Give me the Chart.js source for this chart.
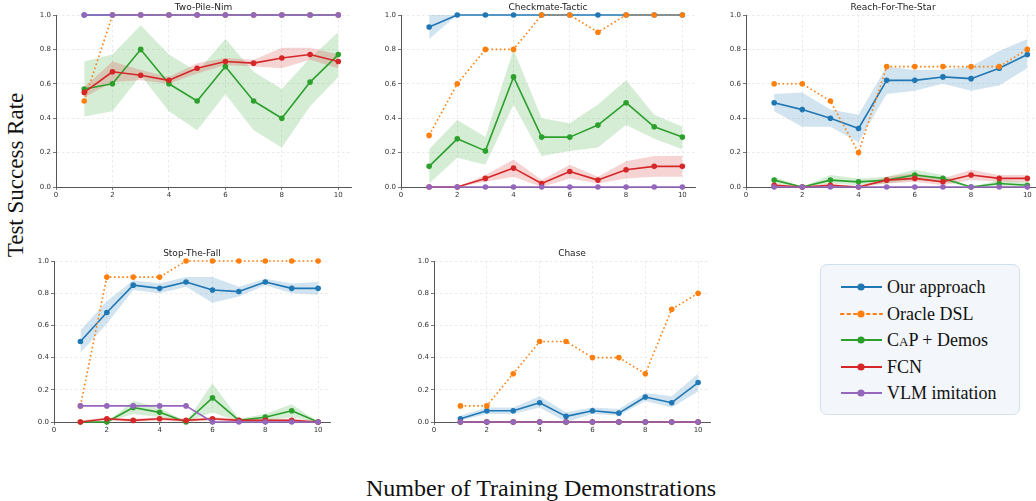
<!DOCTYPE html>
<html><head><meta charset="utf-8">
<script src="https://cdn.jsdelivr.net/npm/chart.js@4.4.0/dist/chart.umd.min.js"></script>
<style>
html,body{margin:0;padding:0;}
body{width:1036px;height:501px;overflow:hidden;background:#fff;position:relative;}
canvas.sub{position:absolute;}
#ylabel{position:absolute;left:16px;top:175px;transform:translate(-50%,-50%) rotate(-90deg);font-family:"Liberation Serif","DejaVu Serif",serif;font-size:23px;color:#111;white-space:nowrap;}
#xlabel{position:absolute;left:541px;top:488px;transform:translate(-50%,-50%);font-family:"Liberation Serif","DejaVu Serif",serif;font-size:24px;color:#111;white-space:nowrap;}
#legend{position:absolute;left:820px;top:264px;width:200px;height:151px;background:#f3f6fa;border:1px solid #d3dfea;border-radius:7px;box-sizing:border-box;}
.row{position:absolute;left:0;height:24px;width:200px;}
.row svg{position:absolute;left:19px;top:2px;}
.row span{position:absolute;left:66px;top:0;line-height:24px;font-family:"Liberation Serif","DejaVu Serif",serif;font-size:18px;color:#111;white-space:nowrap;}
</style></head><body>
<div id="ylabel">Test Success Rate</div>
<div id="xlabel">Number of Training Demonstrations</div>
<div id="legend"></div>
<script>
// ---------- data ----------
const xs = [1, 2, 3, 4, 5, 6, 7, 8, 9, 10];
const xTicks = [0, 2, 4, 6, 8, 10];
const yTicks = [0, 0.2, 0.4, 0.6, 0.8, 1.0];
const seriesNames = ["Our approach", "Oracle DSL", "CAP + Demos", "FCN", "VLM imitation"];
const seriesColors = ["#1f77b4", "#ff7f0e", "#2ca02c", "#d62728", "#9467bd"];
const taskTitles = ["Two-Pile-Nim", "Checkmate-Tactic", "Reach-For-The-Star", "Stop-The-Fall", "Chase"];

// Two-Pile-Nim
const nimOurs   = [1, 1, 1, 1, 1, 1, 1, 1, 1, 1];
const nimOracle = [0.5, 1, 1, 1, 1, 1, 1, 1, 1, 1];
const nimCap    = [0.57, 0.60, 0.80, 0.60, 0.50, 0.70, 0.50, 0.40, 0.61, 0.77];
const nimCapLo  = [0.41, 0.44, 0.65, 0.44, 0.33, 0.54, 0.33, 0.23, 0.47, 0.64];
const nimCapHi  = [0.73, 0.77, 0.94, 0.77, 0.67, 0.86, 0.67, 0.57, 0.75, 0.90];
const nimFcn    = [0.55, 0.67, 0.65, 0.62, 0.69, 0.73, 0.72, 0.75, 0.77, 0.73];
const nimFcnLo  = [0.52, 0.61, 0.62, 0.60, 0.66, 0.71, 0.70, 0.69, 0.74, 0.69];
const nimFcnHi  = [0.58, 0.73, 0.68, 0.64, 0.72, 0.75, 0.74, 0.81, 0.81, 0.77];
const nimVlm    = [1, 1, 1, 1, 1, 1, 1, 1, 1, 1];

// Checkmate-Tactic
const cmOurs    = [0.93, 1, 1, 1, 1, 1, 1, 1, 1, 1];
const cmOursLo  = [0.86, 1, 1, 1, 1, 1, 1, 1, 1, 1];
const cmOursHi  = [1, 1, 1, 1, 1, 1, 1, 1, 1, 1];
const cmOracle  = [0.3, 0.6, 0.8, 0.8, 1, 1, 0.9, 1, 1, 1];
const cmCap     = [0.12, 0.28, 0.21, 0.64, 0.29, 0.29, 0.36, 0.49, 0.35, 0.29];
const cmCapLo   = [0.02, 0.17, 0.13, 0.48, 0.18, 0.21, 0.23, 0.36, 0.28, 0.22];
const cmCapHi   = [0.22, 0.39, 0.29, 0.80, 0.40, 0.37, 0.48, 0.62, 0.42, 0.35];
const cmFcn     = [0, 0, 0.05, 0.11, 0.02, 0.09, 0.04, 0.10, 0.12, 0.12];
const cmFcnLo   = [0, 0, 0.03, 0.06, 0.00, 0.05, 0.02, 0.05, 0.06, 0.06];
const cmFcnHi   = [0, 0, 0.07, 0.16, 0.04, 0.13, 0.06, 0.15, 0.18, 0.18];
const cmVlm     = [0, 0, 0, 0, 0, 0, 0, 0, 0, 0];

// Reach-For-The-Star
const rsOurs    = [0.49, 0.45, 0.40, 0.34, 0.62, 0.62, 0.64, 0.63, 0.69, 0.77];
const rsOursLo  = [0.44, 0.35, 0.35, 0.26, 0.54, 0.56, 0.60, 0.56, 0.59, 0.69];
const rsOursHi  = [0.54, 0.55, 0.45, 0.42, 0.70, 0.68, 0.68, 0.70, 0.79, 0.86];
const rsOracle  = [0.6, 0.6, 0.5, 0.2, 0.7, 0.7, 0.7, 0.7, 0.7, 0.8];
const rsCap     = [0.04, 0, 0.04, 0.03, 0.04, 0.07, 0.05, 0, 0.02, 0.01];
const rsCapLo   = [0.02, 0, 0.02, 0.01, 0.02, 0.04, 0.03, 0, 0, 0];
const rsCapHi   = [0.06, 0, 0.07, 0.05, 0.06, 0.10, 0.07, 0, 0.04, 0.03];
const rsFcn     = [0.01, 0, 0.01, 0, 0.04, 0.05, 0.03, 0.07, 0.05, 0.05];
const rsFcnLo   = [0, 0, 0, 0, 0.02, 0.03, 0.01, 0.04, 0.03, 0.03];
const rsFcnHi   = [0.02, 0, 0.02, 0, 0.06, 0.08, 0.05, 0.10, 0.07, 0.07];
const rsVlm     = [0, 0, 0, 0, 0, 0, 0, 0, 0, 0];

// Stop-The-Fall
const sfOurs    = [0.50, 0.68, 0.85, 0.83, 0.87, 0.82, 0.81, 0.87, 0.83, 0.83];
const sfOursLo  = [0.43, 0.61, 0.82, 0.80, 0.84, 0.74, 0.78, 0.85, 0.80, 0.79];
const sfOursHi  = [0.57, 0.75, 0.88, 0.86, 0.90, 0.90, 0.84, 0.89, 0.86, 0.87];
const sfOracle  = [0.1, 0.9, 0.9, 0.9, 1, 1, 1, 1, 1, 1];
const sfCap     = [0, 0, 0.09, 0.06, 0, 0.15, 0.01, 0.03, 0.07, 0];
const sfCapLo   = [0, 0, 0.05, 0.03, 0, 0.06, 0, 0.01, 0.03, 0];
const sfCapHi   = [0, 0, 0.13, 0.09, 0, 0.24, 0.02, 0.05, 0.11, 0];
const sfFcn     = [0, 0.02, 0.01, 0.02, 0.01, 0.02, 0.01, 0.01, 0.01, 0];
const sfFcnLo   = [0, 0.01, 0, 0.01, 0, 0.01, 0, 0, 0, 0];
const sfFcnHi   = [0.01, 0.03, 0.02, 0.03, 0.02, 0.03, 0.02, 0.02, 0.02, 0.01];
const sfVlm     = [0.1, 0.1, 0.1, 0.1, 0.1, 0, 0, 0, 0, 0];

// Chase
const chOurs    = [0.02, 0.07, 0.07, 0.12, 0.035, 0.07, 0.055, 0.155, 0.12, 0.245];
const chOursLo  = [0.01, 0.05, 0.05, 0.09, 0.00, 0.05, 0.04, 0.13, 0.09, 0.19];
const chOursHi  = [0.04, 0.09, 0.09, 0.16, 0.06, 0.09, 0.08, 0.18, 0.16, 0.30];
const chOracle  = [0.1, 0.1, 0.3, 0.5, 0.5, 0.4, 0.4, 0.3, 0.7, 0.8];
const chCap     = [0, 0, 0, 0, 0, 0, 0, 0, 0, 0];
const chFcn     = [0, 0, 0, 0, 0, 0, 0, 0, 0, 0];
const chVlm     = [0, 0, 0, 0, 0, 0, 0, 0, 0, 0];

// ---------- helpers ----------
const alpha = (hex, a) => {
  const n = parseInt(hex.slice(1), 16);
  return `rgba(${(n >> 16) & 255},${(n >> 8) & 255},${n & 255},${a})`;
};
const pts = arr => xs.map((x, i) => ({x: x, y: arr[i]}));

function lineDS(arr, si) {
  const c = seriesColors[si];
  return {
    label: seriesNames[si], data: pts(arr), borderColor: c, backgroundColor: c,
    borderWidth: 1.6, borderDash: si === 1 ? [1.6, 2.6] : [],
    pointRadius: 2.8, pointBorderWidth: 0, pointBackgroundColor: c,
    borderJoinStyle: 'round', tension: 0, fill: false, clip: false, order: 5 - si
  };
}
function bandDS(lo, hi, si) {
  const c = alpha(seriesColors[si], 0.2);
  return [
    {label: '_lo', data: pts(lo), borderWidth: 0, pointRadius: 0, fill: false, order: 20 - si, borderColor: 'rgba(0,0,0,0)'},
    {label: '_hi', data: pts(hi), borderWidth: 0, pointRadius: 0, fill: '-1', backgroundColor: c, order: 20 - si, borderColor: 'rgba(0,0,0,0)'}
  ];
}

const YW = 30, XH = 16, TH = 15;
const tickFont = {family: 'DejaVu Sans', size: 7};

function makeChart(title, geom, datasets) {
  const [L, R, T, B] = geom;
  const left = L - YW, top = T - TH;
  const w = R - left, h = B + XH - top;
  const cv = document.createElement('canvas');
  cv.className = 'sub';
  cv.width = w; cv.height = h;
  cv.style.left = left + 'px'; cv.style.top = top + 'px';
  cv.style.width = w + 'px'; cv.style.height = h + 'px';
  document.body.appendChild(cv);
  const axisCommon = {
    grid: {color: '#e4e4e4', lineWidth: 0.8, tickLength: 3, tickColor: '#555', tickWidth: 0.8},
    border: {color: '#555', width: 1, dash: [2.5, 2.5]},
  };
  new Chart(cv, {
    type: 'line',
    data: {datasets: datasets},
    options: {
      animation: false, responsive: false, events: [], devicePixelRatio: 1,
      layout: {padding: 0},
      plugins: {
        legend: {display: false}, tooltip: {enabled: false},
        title: {display: true, text: title, fullSize: false, color: '#222',
          font: {family: 'DejaVu Sans', size: 9, weight: 'normal', lineHeight: '12px'},
          padding: {top: 2, bottom: 1}}
      },
      scales: {
        x: Object.assign({}, axisCommon, {
          type: 'linear', min: 0, max: 10.45,
          afterBuildTicks: s => { s.ticks = xTicks.map(v => ({value: v})); },
          ticks: {font: tickFont, color: '#333', padding: 1, maxRotation: 0, autoSkip: false},
          afterFit: s => { s.height = XH; }
        }),
        y: Object.assign({}, axisCommon, {
          type: 'linear', min: 0, max: 1,
          afterBuildTicks: s => { s.ticks = yTicks.map(v => ({value: v})); },
          ticks: {font: tickFont, color: '#333', padding: 2, callback: v => Number(v).toFixed(1)},
          afterFit: s => { s.width = YW; }
        })
      }
    }
  });
}

makeChart(taskTitles[0], [56, 355, 15, 187], [
  ...bandDS(nimCapLo, nimCapHi, 2), ...bandDS(nimFcnLo, nimFcnHi, 3),
  lineDS(nimOurs, 0), lineDS(nimOracle, 1), lineDS(nimCap, 2), lineDS(nimFcn, 3), lineDS(nimVlm, 4)
]);
makeChart(taskTitles[1], [401, 699, 15, 187], [
  ...bandDS(cmOursLo, cmOursHi, 0), ...bandDS(cmCapLo, cmCapHi, 2), ...bandDS(cmFcnLo, cmFcnHi, 3),
  lineDS(cmOurs, 0), lineDS(cmOracle, 1), lineDS(cmCap, 2), lineDS(cmFcn, 3), lineDS(cmVlm, 4)
]);
makeChart(taskTitles[2], [746, 1044, 15, 187], [
  ...bandDS(rsOursLo, rsOursHi, 0), ...bandDS(rsCapLo, rsCapHi, 2), ...bandDS(rsFcnLo, rsFcnHi, 3),
  lineDS(rsOurs, 0), lineDS(rsOracle, 1), lineDS(rsCap, 2), lineDS(rsFcn, 3), lineDS(rsVlm, 4)
]);
makeChart(taskTitles[3], [54, 334, 261, 422], [
  ...bandDS(sfOursLo, sfOursHi, 0), ...bandDS(sfCapLo, sfCapHi, 2), ...bandDS(sfFcnLo, sfFcnHi, 3),
  lineDS(sfOurs, 0), lineDS(sfOracle, 1), lineDS(sfCap, 2), lineDS(sfFcn, 3), lineDS(sfVlm, 4)
]);
makeChart(taskTitles[4], [434, 714, 261, 422], [
  ...bandDS(chOursLo, chOursHi, 0),
  lineDS(chOurs, 0), lineDS(chOracle, 1), lineDS(chCap, 2), lineDS(chFcn, 3), lineDS(chVlm, 4)
]);

// ---------- legend ----------
const legend = document.getElementById('legend');
seriesNames.forEach((name, i) => {
  const row = document.createElement('div');
  row.className = 'row';
  row.style.top = (10 + i * 26.6) + 'px';
  const c = seriesColors[i];
  const dash = i === 1 ? 'stroke-dasharray="2.5 4" stroke-linecap="round"' : '';
  const label = i === 2 ? 'C<span style="position:static;font-size:13px;">A</span>P + Demos' : name;
  row.innerHTML = `<svg width="44" height="20"><line x1="1" y1="10" x2="42" y2="10" stroke="${c}" stroke-width="2.2" ${dash}/><circle cx="21" cy="10" r="3.6" fill="${c}"/></svg><span>${label}</span>`;
  legend.appendChild(row);
});
</script>
</body></html>
